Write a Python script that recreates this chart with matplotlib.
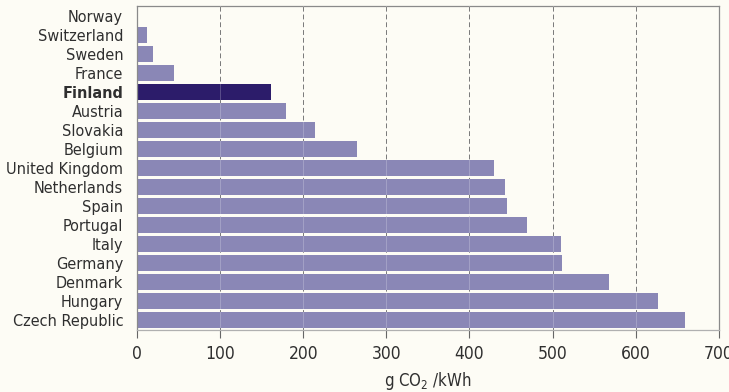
import numpy as np
import matplotlib.pyplot as plt

countries = ['Norway', 'Switzerland', 'Sweden', 'France', 'Finland', 'Austria',
             'Slovakia', 'Belgium', 'United Kingdom', 'Netherlands', 'Spain',
             'Portugal', 'Italy', 'Germany', 'Denmark', 'Hungary', 'Czech Republic']
emissions = [0, 12, 19, 45, 161, 179, 214, 265, 429, 443, 445, 469, 510, 511, 568, 627, 659]
highlight = 'Finland'
x_ticks = [0, 100, 200, 300, 400, 500, 600, 700]

bg = '#fdfcf5'
bar_color = '#8a87b6'
hl_color = '#2c1c6a'
text_color = '#2f2f2f'

plt.rcParams['font.family'] = ['DejaVu Sans']
plt.rcParams['font.stretch'] = 'condensed'

fig = plt.figure(figsize=(7.29, 3.92), dpi=100, facecolor=bg)
ax = fig.add_axes([0.188, 0.158, 0.798, 0.827], facecolor=bg)

y = np.arange(len(countries))
colors = [hl_color if c == highlight else bar_color for c in countries]
ax.barh(y, emissions, height=0.88, color=colors, zorder=2)

ax.set_xlim(0, 700)
ax.set_ylim(len(countries) - 0.47, -0.53)
ax.set_xticks(x_ticks)
ax.set_yticks(y)
ax.set_yticklabels(countries)
for lbl in ax.get_yticklabels():
    if lbl.get_text() == highlight:
        lbl.set_fontweight('bold')

ax.tick_params(axis='y', length=0, pad=10, labelsize=11.6, colors=text_color)
ax.tick_params(axis='x', length=6, width=0.8, pad=5, labelsize=12.5,
               colors='#666666', labelcolor=text_color)

for x in x_ticks[1:-1]:
    ax.axvline(x, color='#555555', lw=0.7, ls=(0, (5, 3)), zorder=1)
    ax.axvline(x, color='#ffffff', lw=0.6, alpha=0.25, zorder=3)

for s in ax.spines.values():
    s.set_color('#8a8a8a')
    s.set_linewidth(0.9)
ax.spines['bottom'].set_color('#b0b0b0')

ax.set_xlabel('g CO$_2$ /kWh', fontsize=12, color=text_color, labelpad=5)

fig.savefig('out.png', dpi=100, facecolor=bg)
